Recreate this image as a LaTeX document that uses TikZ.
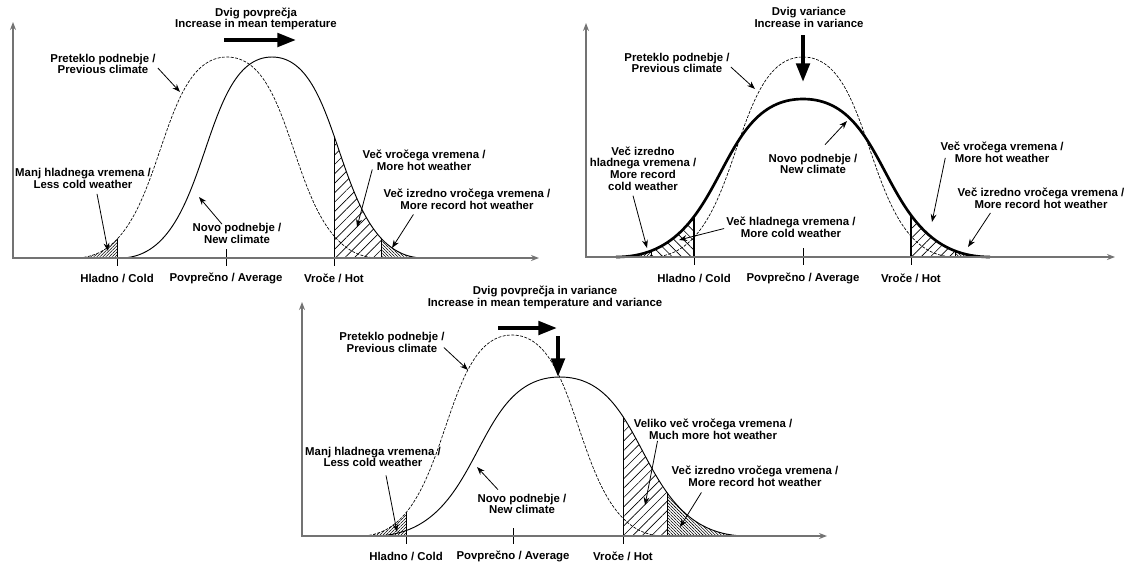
\documentclass[tikz,border=0pt]{standalone}
\usepackage{fontspec}
\setmainfont{Liberation Sans}
\usetikzlibrary{arrows.meta,patterns.meta}

% bell curve: mean, top y, half width, base y
\newcommand{\bellcurve}[4]{({#1-#3},#4) .. controls ({#1-0.395*#3},#4) and ({#1-0.49*#3},#2) .. (#1,#2)
  .. controls ({#1+0.49*#3},#2) and ({#1+0.395*#3},#4) .. ({#1+#3},#4)}

\tikzset{
  lbl/.style={align=center,inner sep=0pt,font=\fontsize{8.55}{8.8}\selectfont\bfseries},
  axisline/.style={black!55,line width=1.1pt,{Stealth[length=6pt,width=4.5pt]}-{Stealth[length=6pt,width=4.5pt]}},
  oldcurve/.style={line width=0.5pt,dash pattern=on 2.2pt off 1.1pt},
  newcurve/.style={line width=0.7pt},
  bound/.style={line width=0.7pt},
  pointer/.style={line width=0.6pt,-{Stealth[length=6pt,width=4.4pt]}},
  bigarrow/.style={line width=3pt,-{Triangle[length=14pt,width=10pt]}},
  widene/.style={pattern={Lines[angle=45,distance=5pt,line width=0.5pt]}},
  widenw/.style={pattern={Lines[angle=-45,distance=5pt,line width=0.5pt]}},
  densene/.style={pattern={Lines[angle=45,distance=1.6pt,line width=0.4pt]}},
  densenw/.style={pattern={Lines[angle=-45,distance=1.6pt,line width=0.4pt]}}
}

\begin{document}
\begin{tikzpicture}[x=0.75pt,y=-0.75pt]
  \useasboundingbox (0,0) rectangle (1130,565);

  % Panel 1 - shift of the mean
  \node[lbl] (t1) at (256,19) {Dvig povprečja\\Increase in mean temperature};
  \coordinate (m1a) at (224,40);
  \coordinate (m1b) at (296,40);
  \draw[bigarrow] (m1a) -- (m1b);

  \begin{scope}
    \clip \bellcurve{227}{57}{152}{258} -- cycle;
    \fill[densene] (70,40) rectangle (117,258);
    \draw[bound] (117,40) -- (117,258);
  \end{scope}
  \begin{scope}
    \clip \bellcurve{272}{57}{152}{258} -- cycle;
    \fill[widene] (334,40) rectangle (381,258);
    \fill[densenw] (381,40) rectangle (430,258);
    \draw[bound] (334,40) -- (334,258) (381,40) -- (381,258);
  \end{scope}
  \draw[oldcurve] \bellcurve{227}{57}{152}{258};
  \draw[newcurve] \bellcurve{272}{57}{152}{258};
  \draw[bound] (117,258) -- (117,266) (226,249) -- (226,266) (334,258) -- (334,266);
  \draw[axisline] (13,22) -- (13,258) -- (539,258);

  \node[lbl] (h1) at (117,278) {Hladno / Cold};
  \node[lbl] (a1) at (226,278) {Povprečno / Average};
  \node[lbl] (v1) at (334,278) {Vroče / Hot};

  \node[lbl] (pc1) at (103,64) {Preteklo podnebje /\\Previous climate};
  \node[lbl] (mh1) at (83,178.5) {Manj hladnega vremena /\\Less cold weather};
  \node[lbl] (np1) at (237,233.5) {Novo podnebje /\\New climate};
  \node[lbl] (vv1) at (424,160) {Več vročega vremena /\\More hot weather};
  \node[lbl] (iv1) at (467,199) {Več izredno vročega vremena /\\More record hot weather};
  \coordinate (pc1e) at (180,92);
  \coordinate (mh1e) at (108,251);
  \coordinate (np1e) at (199,197);
  \coordinate (vv1e) at (357,227);
  \coordinate (iv1e) at (392,248);
  \draw[pointer] ([shift={(2,4)}]pc1.east) -- (pc1e);
  \draw[pointer] ([shift={(14,5)}]mh1.south) -- (mh1e);
  \draw[pointer] ([shift={(-15,1)}]np1.north) -- (np1e);
  \draw[pointer] ([shift={(10,-1)}]vv1.south west) -- (vv1e);
  \draw[pointer] ([shift={(30,5)}]iv1.south west) -- (iv1e);

  % Panel 2 - increase in variance
  \node[lbl] (t2) at (809,17.5) {Dvig variance\\Increase in variance};
  \coordinate (v2a) at (803,35);
  \coordinate (v2b) at (803,82);
  \draw[bigarrow] (v2a) -- (v2b);

  \begin{scope}
    \clip \bellcurve{803}{99}{187}{257} -- cycle;
    \fill[densene] (610,90) rectangle (651,257);
    \fill[widenw] (651,90) rectangle (694,257);
    \fill[widene] (911,90) rectangle (955,257);
    \fill[densenw] (955,90) rectangle (995,257);
    \draw[bound] (651,90) -- (651,257) (955,90) -- (955,257);
    \draw[bound,line width=1.4pt] (694,90) -- (694,257) (911,90) -- (911,257);
  \end{scope}
  \draw[oldcurve] \bellcurve{803}{57}{152}{257};
  \draw[newcurve,line width=2pt] \bellcurve{803}{99}{187}{257};
  \draw[bound] (694,257) -- (694,265) (803,248) -- (803,265) (911,257) -- (911,265);
  \draw[axisline] (586,23) -- (586,257) -- (1115,257);

  \node[lbl] (h2) at (694,278) {Hladno / Cold};
  \node[lbl] (a2) at (803,278) {Povprečno / Average};
  \node[lbl] (v2) at (911,278) {Vroče / Hot};

  \node[lbl] (pc2) at (677,63) {Preteklo podnebje /\\Previous climate};
  \node[lbl] (np2) at (813,164) {Novo podnebje /\\New climate};
  \node[lbl] (ir2) at (643,168.5) {Več izredno\\hladnega vremena /\\More record\\cold weather};
  \node[lbl] (mc2) at (791,227.5) {Več hladnega vremena /\\More cold weather};
  \node[lbl] (vv2) at (1002,152.5) {Več vročega vremena /\\More hot weather};
  \node[lbl] (iv2) at (1041,198.5) {Več izredno vročega vremena /\\More record hot weather};
  \coordinate (pc2e) at (755,89);
  \coordinate (np2e) at (847,121);
  \coordinate (ir2e) at (647,248);
  \coordinate (mc2e) at (679,240);
  \coordinate (vv2e) at (932,222);
  \coordinate (iv2e) at (968,247);
  \draw[pointer] ([shift={(1,4)}]pc2.east) -- (pc2e);
  \draw[pointer] ([shift={(12,-9)}]np2.north) -- (np2e);
  \draw[pointer] ([shift={(-10,5)}]ir2.south) -- (ir2e);
  \draw[pointer] ([shift={(-2,1)}]mc2.west) -- (mc2e);
  \draw[pointer] ([shift={(5,-5)}]vv2.south west) -- (vv2e);
  \draw[pointer] ([shift={(33,4)}]iv2.south west) -- (iv2e);

  % Panel 3 - shift of the mean and increase in variance
  \node[lbl] (t3) at (545,297.5) {Dvig povprečja in variance\\Increase in mean temperature and variance};
  \coordinate (m3a) at (498,328);
  \coordinate (m3b) at (557,328);
  \coordinate (v3a) at (558,336);
  \coordinate (v3b) at (558,377);
  \draw[bigarrow] (m3a) -- (m3b);
  \draw[bigarrow] (v3a) -- (v3b);

  \begin{scope}
    \clip \bellcurve{512}{335}{152}{536} -- cycle;
    \fill[densene] (355,320) rectangle (406,536);
    \draw[bound] (406,320) -- (406,536);
  \end{scope}
  \begin{scope}
    \clip \bellcurve{560}{377}{187}{536} -- cycle;
    \fill[widene] (623,360) rectangle (667,536);
    \fill[densenw] (667,360) rectangle (750,536);
    \draw[bound] (623,360) -- (623,536) (667,360) -- (667,536);
  \end{scope}
  \draw[oldcurve] \bellcurve{512}{335}{152}{536};
  \draw[newcurve] \bellcurve{560}{377}{187}{536};
  \draw[bound] (406,536) -- (406,544) (513,528) -- (513,544) (623,536) -- (623,544);
  \draw[axisline] (302,302) -- (302,536) -- (827,536);

  \node[lbl] (h3) at (406,556) {Hladno / Cold};
  \node[lbl] (a3) at (513,556) {Povprečno / Average};
  \node[lbl] (v3) at (623,556) {Vroče / Hot};

  \node[lbl] (pc3) at (392,342.5) {Preteklo podnebje /\\Previous climate};
  \node[lbl] (mh3) at (373,457) {Manj hladnega vremena /\\Less cold weather};
  \node[lbl] (np3) at (522,504) {Novo podnebje /\\New climate};
  \node[lbl] (vm3) at (713,429.5) {Veliko več vročega vremena /\\Much more hot weather};
  \node[lbl] (iv3) at (755,476) {Več izredno vročega vremena /\\More record hot weather};
  \coordinate (pc3e) at (468,370);
  \coordinate (mh3e) at (397,532);
  \coordinate (np3e) at (477,467);
  \coordinate (vm3e) at (645,505);
  \coordinate (iv3e) at (680,527);
  \draw[pointer] ([shift={(-1,5)}]pc3.east) -- (pc3e);
  \draw[pointer] ([shift={(13,8)}]mh3.south) -- (mh3e);
  \draw[pointer] ([shift={(-24,-4)}]np3.north) -- (np3e);
  \draw[pointer] ([shift={(24,1)}]vm3.south west) -- (vm3e);
  \draw[pointer] ([shift={(30,6)}]iv3.south west) -- (iv3e);
\end{tikzpicture}
\end{document}
